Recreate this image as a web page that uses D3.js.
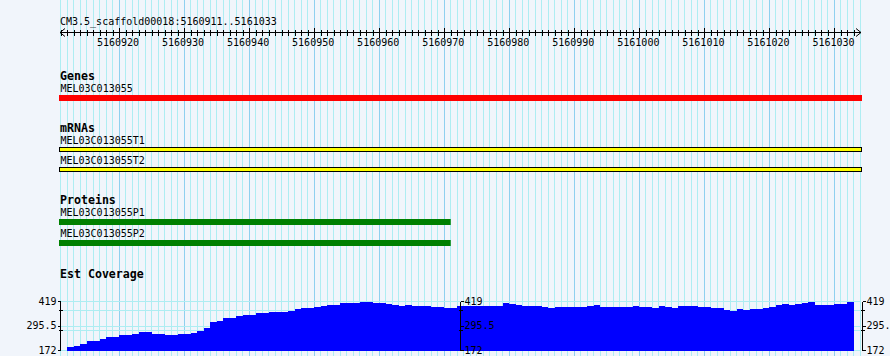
<!DOCTYPE html>
<html>
<head>
<meta charset="utf-8">
<script src="https://cdn.jsdelivr.net/npm/d3@7"></script>
<style>
  body { margin: 0; background: #f1f5fb; }
  svg { display: block; }
  text { font-family: "DejaVu Sans Mono", monospace; font-size: 10px; fill: #000; }
  .title { font-weight: bold; font-size: 11.6px; }
</style>
</head>
<body>
<div id="chart"></div>
<script>
// region shown
const refName = "CM3.5_scaffold00018";
const viewStart = 5160911;
const viewEnd = 5161033;

const rulerTicks = [5160920, 5160930, 5160940, 5160950, 5160960, 5160970,
  5160980, 5160990, 5161000, 5161010, 5161020, 5161030];

// features
const genes = [{ name: "MEL03C013055", start: 5160911, end: 5161033 }];
const mrnas = [
  { name: "MEL03C013055T1", start: 5160911, end: 5161033 },
  { name: "MEL03C013055T2", start: 5160911, end: 5161033 }
];
const proteins = [
  { name: "MEL03C013055P1", start: 5160911, end: 5160970 },
  { name: "MEL03C013055P2", start: 5160911, end: 5160970 }
];

// est coverage, one value per base from viewStart
const coverage = [172,
  190, 195, 207, 222, 222, 228, 239, 239, 249, 249,
  254, 264, 264, 254, 254, 249, 249, 254, 254, 259,
  269, 284, 315, 323, 335, 335, 345, 350, 353, 361,
  361, 365, 365, 365, 371, 381, 385, 385, 389, 394,
  399, 399, 413, 413, 413, 419, 419, 413, 413, 408,
  401, 396, 401, 395, 395, 395, 390, 390, 386, 386,
  394, 394, 394, 394, 394, 394, 394, 412, 407, 401,
  394, 394, 394, 389, 385, 389, 389, 389, 389, 389,
  394, 399, 390, 390, 390, 390, 390, 394, 390, 390,
  385, 394, 389, 384, 395, 395, 395, 389, 389, 384,
  384, 374, 369, 379, 374, 379, 379, 384, 390, 400,
  405, 400, 405, 410, 414, 400, 400, 400, 405, 405,
  416,
  172];
const covTicks = [172, 295.5, 419];
const covMinorTicks = [275, 375];

const width = 890, height = 356;

const svg = d3.select("#chart").append("svg")
  .attr("width", width)
  .attr("height", height);

const x = d3.scaleLinear()
  .domain([viewStart, viewEnd + 1])
  .range([60.5, 860.5]);

const px = v => Math.round(v) + 0.5;
const left = x.range()[0] - 1.5, right = x.range()[1] + 1.5;

// vertical grid, one line per base, darker every 10
const grid = svg.append("g").attr("shape-rendering", "crispEdges");
grid.selectAll("line.vgrid")
  .data(d3.range(viewStart, viewEnd + 2))
  .enter().append("line")
  .attr("x1", d => px(x(d) - 0.5)).attr("x2", d => px(x(d) - 0.5))
  .attr("y1", 0).attr("y2", height)
  .attr("stroke", d => d % 10 === 0 ? "#8fd0ef" : "#aeedf2")
  .attr("stroke-width", 1);

// ruler
const ruler = svg.append("g");
ruler.append("text").attr("x", 60).attr("y", 25)
  .text(`${refName}:${viewStart}..${viewEnd}`);
const axisY = 32.5;
ruler.append("line")
  .attr("x1", left + 1).attr("x2", right - 1)
  .attr("y1", axisY).attr("y2", axisY)
  .attr("stroke", "#000").attr("shape-rendering", "crispEdges");
ruler.selectAll("line.minor")
  .data(d3.range(viewStart, viewEnd + 1).filter(d => d % 10 !== 0))
  .enter().append("line")
  .attr("x1", d => px(x(d))).attr("x2", d => px(x(d)))
  .attr("y1", axisY - 3).attr("y2", axisY + 3)
  .attr("stroke", "#000").attr("shape-rendering", "crispEdges");
ruler.selectAll("line.major")
  .data(rulerTicks)
  .enter().append("line")
  .attr("x1", d => px(x(d))).attr("x2", d => px(x(d)))
  .attr("y1", axisY - 5).attr("y2", axisY + 5)
  .attr("stroke", "#000").attr("shape-rendering", "crispEdges");
ruler.selectAll("text.tick")
  .data(rulerTicks)
  .enter().append("text")
  .attr("x", d => x(d) - 1)
  .attr("y", 46)
  .attr("text-anchor", "middle")
  .text(d => d);
// arrow heads
ruler.append("path")
  .attr("d", `M${left + 6},${axisY - 4}L${left + 1},${axisY}L${left + 6},${axisY + 4}`)
  .attr("fill", "none").attr("stroke", "#000");
ruler.append("path")
  .attr("d", `M${right - 6},${axisY - 4}L${right - 1},${axisY}L${right - 6},${axisY + 4}`)
  .attr("fill", "none").attr("stroke", "#000");

// generic feature track
function featureBox(d) {
  const x0 = Math.max(x(d.start), x.range()[0]) - 1.5;
  const x1 = d.end >= viewEnd ? right : x(d.end + 1);
  return [x0, x1];
}

// genes
svg.append("text").attr("class", "title").attr("x", 60).attr("y", 80).text("Genes");
genes.forEach((d, i) => {
  const [x0, x1] = featureBox(d);
  svg.append("text").attr("x", 60.5).attr("y", 92 + i * 20).text(d.name);
  svg.append("rect").attr("x", x0).attr("y", 95 + i * 20)
    .attr("width", x1 - x0).attr("height", 6).attr("fill", "#ff0000");
});

// mrnas
svg.append("text").attr("class", "title").attr("x", 60).attr("y", 131.5).text("mRNAs");
mrnas.forEach((d, i) => {
  const [x0, x1] = featureBox(d);
  svg.append("text").attr("x", 60.5).attr("y", 144 + i * 20).text(d.name);
  svg.append("rect").attr("x", x0 + 0.5).attr("y", 147.5 + i * 20)
    .attr("width", x1 - x0 - 1).attr("height", 4)
    .attr("fill", "#ffff00").attr("stroke", "#000").attr("stroke-width", 1);
});

// proteins
svg.append("text").attr("class", "title").attr("x", 60).attr("y", 204).text("Proteins");
proteins.forEach((d, i) => {
  const [x0, x1] = featureBox(d);
  svg.append("text").attr("x", 60.5).attr("y", 216 + i * 21).text(d.name);
  svg.append("rect").attr("x", x0).attr("y", 219 + i * 21)
    .attr("width", x1 - x0).attr("height", 6).attr("fill", "#008000");
});

// est coverage
svg.append("text").attr("class", "title").attr("x", 60).attr("y", 277.5).text("Est Coverage");

const y = d3.scaleLinear()
  .domain([172, 419])
  .range([350.5, 301.5]);

svg.append("g").attr("shape-rendering", "crispEdges")
  .selectAll("line")
  .data(covTicks.concat(covMinorTicks))
  .enter().append("line")
  .attr("x1", left + 1).attr("x2", right - 1)
  .attr("y1", d => px(y(d) - 0.5)).attr("y2", d => px(y(d) - 0.5))
  .attr("stroke", "#aeedf2");

svg.append("g").attr("shape-rendering", "crispEdges")
  .selectAll("rect")
  .data(coverage)
  .enter().append("rect")
  .attr("x", (d, i) => x(viewStart + i))
  .attr("width", x(viewStart + 1) - x(viewStart))
  .attr("y", d => y(d))
  .attr("height", d => y(172) - y(d))
  .attr("fill", "#0000ff");

// three y axes: left, middle, right
function covAxis(ax, side) {
  const g = svg.append("g").attr("shape-rendering", "crispEdges");
  g.append("line").attr("x1", ax).attr("x2", ax)
    .attr("y1", px(y(419) - 0.5)).attr("y2", px(y(172) - 0.5))
    .attr("stroke", "#000");
  g.selectAll("line.t")
    .data(covTicks)
    .enter().append("line")
    .attr("x1", ax).attr("x2", ax + side * 3)
    .attr("y1", d => px(y(d) - 0.5)).attr("y2", d => px(y(d) - 0.5))
    .attr("stroke", "#000");
  g.selectAll("line.m")
    .data(covMinorTicks)
    .enter().append("line")
    .attr("x1", ax - 2).attr("x2", ax + 2)
    .attr("y1", d => px(y(d) - 0.5)).attr("y2", d => px(y(d) - 0.5))
    .attr("stroke", "#000");
  g.selectAll("text")
    .data(covTicks)
    .enter().append("text")
    .attr("x", ax + side * 4)
    .attr("y", d => y(d) + 3)
    .attr("text-anchor", side < 0 ? "end" : "start")
    .text(d => d);
}
covAxis(60.5, -1);
covAxis(px((x.range()[0] + x.range()[1]) / 2 - 1), 1);
covAxis(px(right - 0.5), 1);
</script>
</body>
</html>
